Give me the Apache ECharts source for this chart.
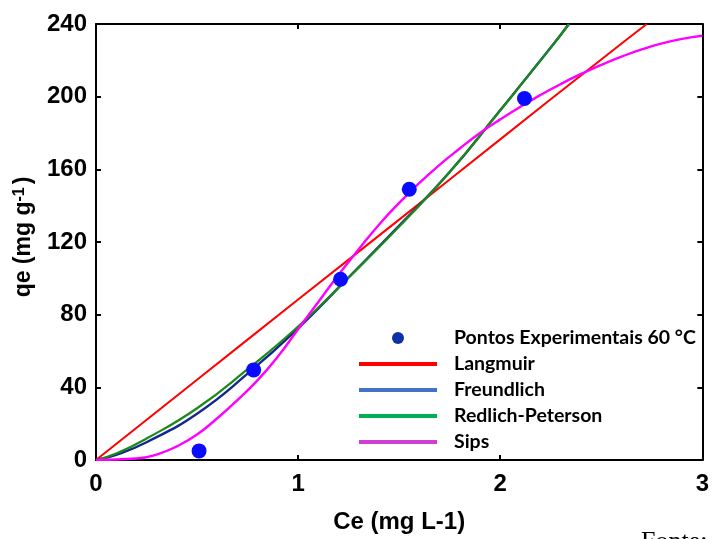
<!DOCTYPE html>
<html><head><meta charset="utf-8">
<script src="https://cdn.jsdelivr.net/npm/echarts@6/dist/echarts.min.js"></script>
<style>html,body{margin:0;padding:0;background:#fff}#c{width:712px;height:539px}</style>
</head><body><div id="c"></div>
<script>
const seriesNames = ['Pontos Experimentais 60 °C', 'Langmuir', 'Freundlich', 'Redlich-Peterson', 'Sips'];
const xTicks = [0, 1, 2, 3];
const yTicks = [0, 40, 80, 120, 160, 200, 240];

const expX = [0.51, 0.78, 1.21, 1.55, 2.12];
const expY = [5, 49.6, 99.5, 149, 199];

const langX = [0, 0.5, 1, 1.5, 2, 2.5, 2.725];
const langY = [0, 44.2, 88.3, 132.3, 176.5, 220.5, 240];

const freuX = [0, 0.1, 0.25, 0.5, 0.75, 1.0, 1.25, 1.5, 1.75, 2.0, 2.25, 2.34];
const freuY = [0, 2.8, 9.8, 25.5, 47.5, 72.5, 100.5, 129, 158.5, 192.5, 227, 240];

const rpX = [0, 0.1, 0.25, 0.5, 0.75, 1.0, 1.25, 1.5, 1.75, 2.0, 2.25, 2.34];
const rpY = [0, 3.6, 11.8, 28.5, 50, 73.5, 100.5, 128.5, 158.5, 192.5, 227, 240];

const sipsX = [0, 0.2, 0.3, 0.4, 0.5, 0.6, 0.7, 0.8, 0.9, 1.0, 1.1, 1.2, 1.3, 1.4, 1.5, 1.6, 1.7, 1.8, 1.9, 2.0, 2.1, 2.2, 2.3, 2.4, 2.5, 2.6, 2.7, 2.8, 2.9, 3.0];
const sipsY = [0, 0.8, 3, 7.5, 14, 23, 33, 44, 57, 72, 87, 102, 116, 129.5, 141.5, 152.5, 162.5, 171.5, 180, 187.5, 194.5, 201, 207, 212.5, 217.5, 222, 226, 229.3, 231.8, 233.5];

const pairs = (xs, ys) => xs.map((x, i) => [x, ys[i]]);

const chart = echarts.init(document.getElementById('c'), null, {renderer: 'canvas'});
const axisLine = {show: true, onZero: false, lineStyle: {color: '#000', width: 2}};
const axisTick = {show: true, inside: true, length: 5, lineStyle: {color: '#000', width: 2}};
const tickFont = {fontFamily: 'Liberation Sans', fontWeight: 'bold', fontSize: 24, color: '#000'};
const LINE_ICON = 'path://M0,0H78V4H0Z';
const legendFont = {fontFamily: 'Lato', fontWeight: 'bold', fontSize: 19.5, color: '#000'};

chart.setOption({
  animation: false,
  backgroundColor: '#fff',
  grid: {left: 96, right: 7, top: 24, bottom: 74},
  xAxis: [{
    type: 'value', min: xTicks[0], max: xTicks[xTicks.length - 1], interval: 1, position: 'bottom',
    axisLine, axisTick, splitLine: {show: false},
    axisLabel: Object.assign({margin: 12, showMinLabel: true, showMaxLabel: true}, tickFont),
    name: 'Ce (mg L-1)', nameLocation: 'middle', nameGap: 50,
    nameTextStyle: {fontFamily: 'Liberation Sans', fontWeight: 'bold', fontSize: 24, color: '#000'}
  }, {
    type: 'value', min: xTicks[0], max: xTicks[xTicks.length - 1], interval: 1, position: 'top',
    axisLine, axisTick, splitLine: {show: false}, axisLabel: {show: false}
  }],
  yAxis: [{
    type: 'value', min: yTicks[0], max: yTicks[yTicks.length - 1], interval: 40, position: 'left',
    axisLine, axisTick, splitLine: {show: false},
    axisLabel: Object.assign({margin: 9, showMinLabel: true, showMaxLabel: true}, tickFont),
    name: 'qe (mg g{sup|-1})', nameLocation: 'middle', nameGap: 61, nameRotate: 90,
    nameTextStyle: {
      fontFamily: 'Liberation Sans', fontWeight: 'bold', fontSize: 23, color: '#000', padding: [0, 0, 0, 10],
      rich: {sup: {fontFamily: 'Liberation Sans', fontWeight: 'bold', fontSize: 16, color: '#000', verticalAlign: 'top', padding: [0, 3, 0, 0]}}
    }
  }, {
    type: 'value', min: yTicks[0], max: yTicks[yTicks.length - 1], interval: 40, position: 'right',
    axisLine, axisTick, splitLine: {show: false}, axisLabel: {show: false}
  }],
  legend: {
    orient: 'vertical', left: 354, top: 323, itemWidth: 78, itemHeight: 12, itemGap: 6,
    selectedMode: false,
    textStyle: Object.assign({padding: [0, 0, 0, 12]}, legendFont),
    data: [
      {name: seriesNames[0], icon: 'circle', itemStyle: {color: '#0b32a8', borderWidth: 0, opacity: 1}},
      {name: seriesNames[1], icon: LINE_ICON, itemStyle: {color: '#ff0000', borderWidth: 0}},
      {name: seriesNames[2], icon: LINE_ICON, itemStyle: {color: '#4472c4', borderWidth: 0}},
      {name: seriesNames[3], icon: LINE_ICON, itemStyle: {color: '#00b050', borderWidth: 0}},
      {name: seriesNames[4], icon: LINE_ICON, itemStyle: {color: '#d03fd0', borderWidth: 0}}
    ]
  },
  graphic: [{
    type: 'text', left: 641, top: 529,
    style: {text: 'Fonte:', font: '26px "Liberation Serif"', fill: '#000'}
  }],
  series: [
    {name: seriesNames[1], type: 'line', data: pairs(langX, langY), showSymbol: false, symbol: 'none', smooth: true,
     lineStyle: {color: '#ff0000', width: 2}, itemStyle: {color: '#ff0000'}, z: 2},
    {name: seriesNames[2], type: 'line', data: pairs(freuX, freuY), showSymbol: false, symbol: 'none', smooth: true,
     lineStyle: {color: '#14288c', width: 2.4}, itemStyle: {color: '#14288c'}, z: 3},
    {name: seriesNames[3], type: 'line', data: pairs(rpX, rpY), showSymbol: false, symbol: 'none', smooth: true,
     lineStyle: {color: '#1a8a1a', width: 2.2}, itemStyle: {color: '#1a8a1a'}, z: 4},
    {name: seriesNames[4], type: 'line', data: pairs(sipsX, sipsY), showSymbol: false, symbol: 'none', smooth: true,
     lineStyle: {color: '#ff00ff', width: 2.4}, itemStyle: {color: '#ff00ff'}, z: 5},
    {name: seriesNames[0], type: 'scatter', data: pairs(expX, expY), symbol: 'circle', symbolSize: 15,
     itemStyle: {color: '#0a0aff', opacity: 1}, z: 6}
  ]
});
</script></body></html>
